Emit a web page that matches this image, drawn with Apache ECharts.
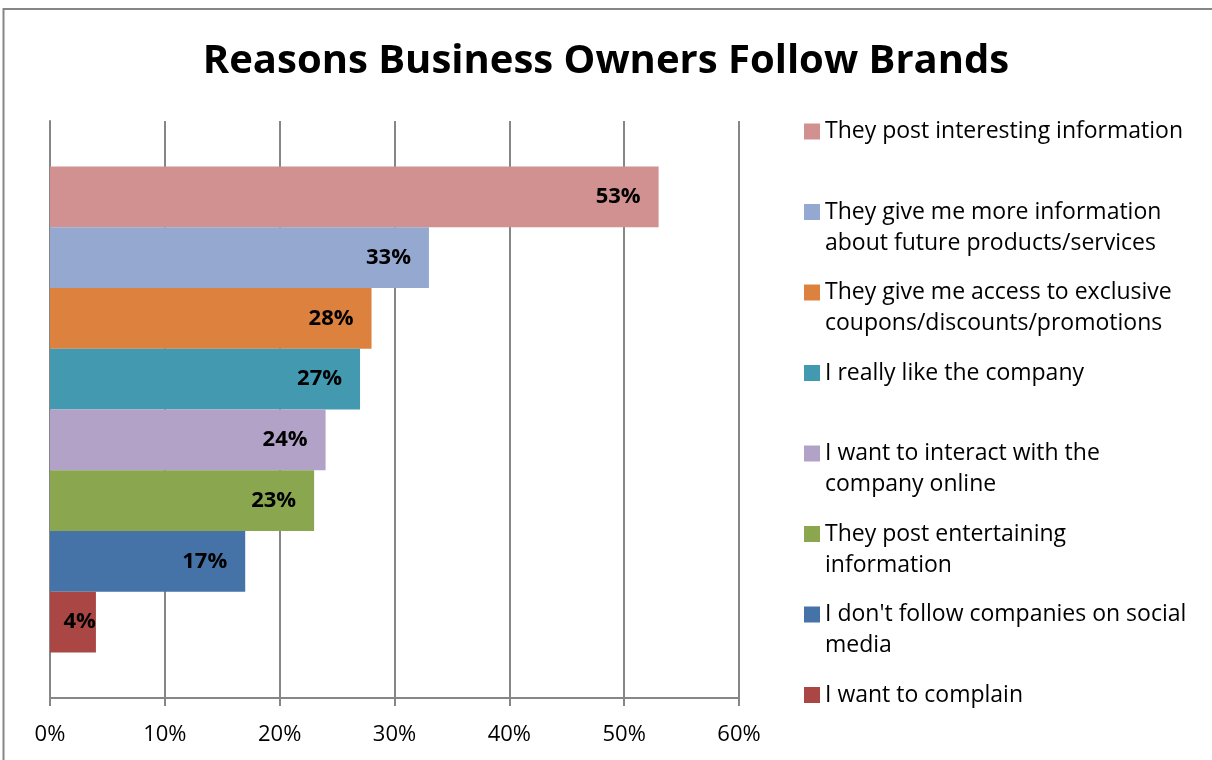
<!DOCTYPE html>
<html>
<head>
<meta charset="utf-8">
<title>Reasons Business Owners Follow Brands</title>
<script src="https://cdn.jsdelivr.net/npm/echarts@6/dist/echarts.min.js"></script>
<style>
  html, body { margin: 0; padding: 0; background: #ffffff; }
  #chart { width: 1212px; height: 760px; }
</style>
</head>
<body>
<div id="chart"></div>
<script>
// Survey answers, top bar first
const reasons = [
  'They post interesting information',
  'They give me more information about future products/services',
  'They give me access to exclusive coupons/discounts/promotions',
  'I really like the company',
  'I want to interact with the company online',
  'They post entertaining information',
  "I don't follow companies on social media",
  'I want to complain'
];
// How the legend breaks each answer into lines
const legendLines = [
  ['They post interesting information'],
  ['They give me more information', 'about future products/services'],
  ['They give me access to exclusive', 'coupons/discounts/promotions'],
  ['I really like the company'],
  ['I want to interact with the', 'company online'],
  ['They post entertaining', 'information'],
  ["I don't follow companies on social", 'media'],
  ['I want to complain']
];
// Share of business owners (%)
const shares = [53, 33, 28, 27, 24, 23, 17, 4];
const barColors = ['#d19190', '#95a9d0', '#dc823e', '#4299b0', '#b3a2c8', '#8aa74f', '#4673a7', '#aa4644'];
const xTicks = [0, 10, 20, 30, 40, 50, 60];

const FONT = '"Open Sans", "DejaVu Sans", sans-serif';
const GRID_GRAY = '#868686';
const LEGEND_LINE = 31;

const chart = echarts.init(document.getElementById('chart'), null, { renderer: 'canvas' });

const series = reasons.map((name, i) => ({
  name: name,
  type: 'bar',
  data: [shares[i]],
  barGap: '0%',
  barCategoryGap: '15.8%',
  itemStyle: { color: barColors[i] },
  label: {
    show: true,
    position: 'insideRight',
    distance: shares[i] < 8 ? 0 : 18,
    formatter: p => p.value + '%',
    color: '#000000',
    fontFamily: FONT,
    fontWeight: 'bold',
    fontSize: 22
  }
}));

// One legend block per answer so each sits in its own evenly spaced slot,
// with the swatch lined up against the first line of text.
const legends = reasons.map((name, i) => {
  const lines = legendLines[i];
  const centerY = 131.5 + i * 80.5;
  const multi = lines.length > 1;
  return {
    data: [name],
    orient: 'vertical',
    left: 804,
    top: multi ? centerY - LEGEND_LINE * 1.5 : centerY - LEGEND_LINE / 2,
    padding: 0,
    itemWidth: 16,
    itemHeight: 16,
    icon: 'rect',
    selectedMode: false,
    formatter: () => (multi ? '\n' + lines.join('\n') : lines[0]),
    textStyle: {
      fontFamily: FONT,
      fontSize: 23,
      lineHeight: LEGEND_LINE,
      color: '#000000'
    }
  };
});

chart.setOption({
  animation: false,
  backgroundColor: '#ffffff',
  title: {
    text: 'Reasons Business Owners Follow Brands',
    left: 'center',
    top: 42,
    padding: [0, 0, 0, 20],
    textStyle: {
      fontFamily: FONT,
      fontWeight: 'bold',
      fontSize: 40,
      color: '#000000'
    }
  },
  graphic: [{
    type: 'rect',
    silent: true,
    shape: { x: 3.5, y: 9, width: 1300, height: 900 },
    style: { fill: null, stroke: GRID_GRAY, lineWidth: 2 }
  }],
  legend: legends,
  grid: { left: 50, right: 473, top: 121, bottom: 62, containLabel: false },
  xAxis: {
    type: 'value',
    min: xTicks[0],
    max: xTicks[xTicks.length - 1],
    interval: xTicks[1] - xTicks[0],
    axisLine: { show: true, lineStyle: { color: GRID_GRAY, width: 2 } },
    axisTick: { show: true, length: 8, lineStyle: { color: GRID_GRAY, width: 2 } },
    axisLabel: {
      formatter: '{value}%',
      margin: 26,
      fontFamily: FONT,
      fontSize: 22,
      color: '#000000'
    },
    splitLine: { show: true, lineStyle: { color: GRID_GRAY, width: 2 } }
  },
  yAxis: {
    type: 'category',
    data: [''],
    inverse: true,
    axisLine: { show: true, lineStyle: { color: GRID_GRAY, width: 2 } },
    axisTick: { show: false },
    axisLabel: { show: false }
  },
  series: series
});
</script>
</body>
</html>
